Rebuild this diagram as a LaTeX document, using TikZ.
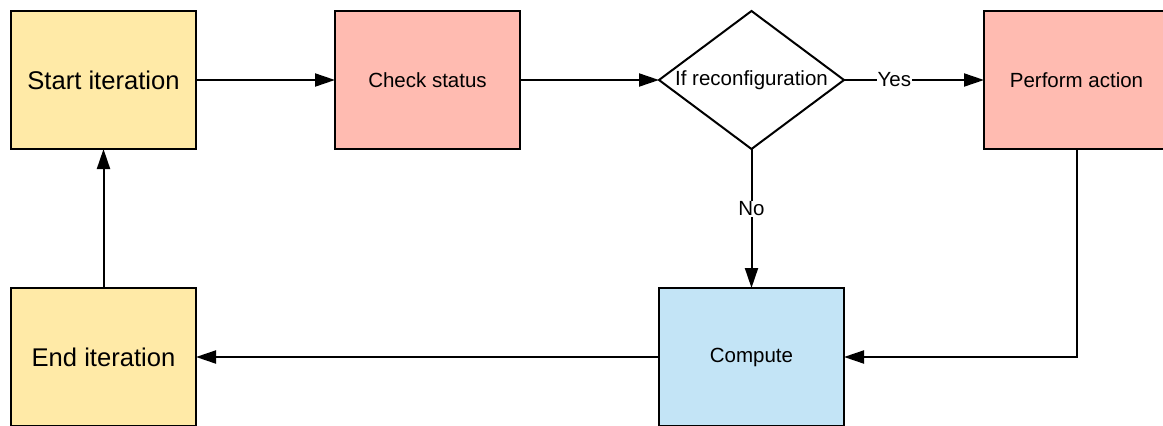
\documentclass[tikz,border=0pt]{standalone}
\usepackage{fontspec}
\setmainfont{Liberation Sans}
\usepackage{tikz}
\usetikzlibrary{positioning}
\usetikzlibrary{shapes.geometric}
\usetikzlibrary{arrows.meta}

\definecolor{iteryellow}{HTML}{FFEAA7}
\definecolor{steppink}{HTML}{FFBBB1}
\definecolor{computeblue}{HTML}{C3E4F6}

\tikzset{
    flowbox/.style={rectangle, minimum width=185pt, minimum height=138pt, inner sep=0pt, outer sep=0pt, draw=black, line width=2pt, font=\fontsize{20.5}{24}\selectfont},
    bigbox/.style={flowbox, fill=iteryellow, font=\fontsize{25.6}{30}\selectfont},
    decision/.style={diamond, shape aspect=1.34, minimum width=185pt, minimum height=138pt, inner sep=0pt, outer sep=0pt, draw=black, line width=2pt, fill=white, font=\fontsize{20.5}{24}\selectfont},
    flowline/.style={-{Triangle[length=20pt, width=13pt]}, line width=2pt},
    linelabel/.style={fill=white, inner sep=1pt, font=\fontsize{20.5}{24}\selectfont}
}

\begin{document}
\begin{tikzpicture}
    \useasboundingbox (0pt, 0pt) rectangle (1163pt, -426pt);
    \clip (0pt, 0pt) rectangle (1163pt, -426pt);

    \node [bigbox] (start) at (103.5pt, -80pt) {Start iteration};
    \node [flowbox, fill=steppink, right=139pt of start] (check) {Check status};
    \node [decision, right=139pt of check] (reconf) {If reconfiguration};
    \node [flowbox, fill=steppink, right=140pt of reconf] (perform) {Perform action};
    \node [flowbox, fill=computeblue, below=139pt of reconf] (compute) {Compute};
    \node [bigbox, below=139pt of start] (finish) {End iteration};

    \draw [flowline] (start) -- (check);
    \draw [flowline] (check) -- (reconf);
    \draw [flowline] (reconf) -- node [linelabel, pos=0.36] (yes) {Yes} (perform);
    \draw [flowline] (reconf) -- node [linelabel, pos=0.43] (no) {No} (compute);
    \draw [flowline] (perform.south) |- (compute.east);
    \draw [flowline] (compute) -- (finish);
    \draw [flowline] (finish) -- (start);
\end{tikzpicture}
\end{document}
